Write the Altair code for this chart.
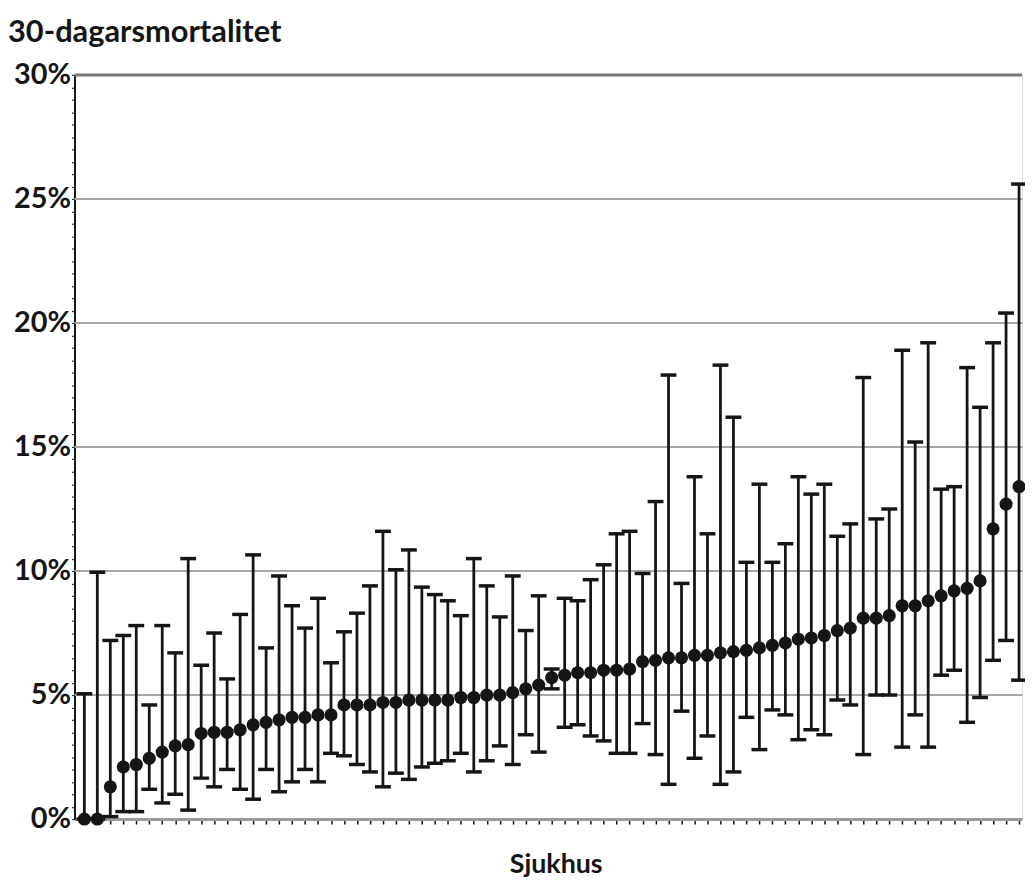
import altair as alt
import pandas as pd

# 30-day mortality per hospital (%), sorted, with confidence limits (%)
rate = [0, 0, 1.3, 2.1, 2.2, 2.45, 2.7, 2.95, 3.0, 3.45,
        3.5, 3.5, 3.6, 3.8, 3.9, 4.0, 4.1, 4.1, 4.2, 4.2,
        4.6, 4.6, 4.6, 4.7, 4.7, 4.8, 4.8, 4.8, 4.8, 4.9,
        4.9, 5.0, 5.0, 5.1, 5.25, 5.4, 5.7, 5.8, 5.9, 5.9,
        6.0, 6.0, 6.05, 6.35, 6.4, 6.5, 6.5, 6.6, 6.6, 6.7,
        6.75, 6.8, 6.9, 7.0, 7.1, 7.25, 7.3, 7.4, 7.6, 7.7,
        8.1, 8.1, 8.2, 8.6, 8.6, 8.8, 9.0, 9.2, 9.3, 9.6,
        11.7, 12.7, 13.4]
upper = [5.05, 9.95, 7.2, 7.4, 7.8, 4.6, 7.8, 6.7, 10.5, 6.2,
         7.5, 5.65, 8.25, 10.65, 6.9, 9.8, 8.6, 7.7, 8.9, 6.3,
         7.55, 8.3, 9.4, 11.6, 10.05, 10.85, 9.35, 9.05, 8.8, 8.2,
         10.5, 9.4, 8.15, 9.8, 7.6, 9.0, 6.05, 8.9, 8.8, 9.65,
         10.25, 11.5, 11.6, 9.9, 12.8, 17.9, 9.5, 13.8, 11.5, 18.3,
         16.2, 10.35, 13.5, 10.35, 11.1, 13.8, 13.1, 13.5, 11.4, 11.9,
         17.8, 12.1, 12.5, 18.9, 15.2, 19.2, 13.3, 13.4, 18.2, 16.6,
         19.2, 20.4, 25.6]
lower = [0, 0, 0.1, 0.3, 0.3, 1.2, 0.65, 1.0, 0.36, 1.65,
         1.3, 2.0, 1.2, 0.8, 2.0, 1.1, 1.5, 2.0, 1.5, 2.65,
         2.55, 2.2, 1.9, 1.3, 1.85, 1.6, 2.1, 2.25, 2.35, 2.65,
         1.9, 2.35, 2.95, 2.2, 3.4, 2.7, 5.25, 3.7, 3.8, 3.35,
         3.15, 2.65, 2.65, 3.85, 2.6, 1.4, 4.35, 2.45, 3.35, 1.4,
         1.9, 4.1, 2.8, 4.4, 4.2, 3.2, 3.6, 3.4, 4.8, 4.6,
         2.6, 5.0, 5.0, 2.9, 4.2, 2.9, 5.8, 6.0, 3.9, 4.9,
         6.4, 7.2, 5.6]
grid_levels = [5, 10, 15, 20, 25]
top_level = [30]

n = len(rate)
df = pd.DataFrame({"i": list(range(n)), "rate": rate, "lower": lower, "upper": upper})
grid_df = pd.DataFrame({"level": grid_levels})
top_df = pd.DataFrame({"level": top_level})

FONT = "Lato"
INK = "#151515"
xscale = alt.Scale(domain=[-0.76, 72.23], nice=False, zero=False)
yscale = alt.Scale(domain=[0, 30], nice=False)

x_enc = alt.X(
    "i:Q", scale=xscale,
    axis=alt.Axis(values=list(range(n)), tickCount=500, labels=False, tickSize=5, tickColor=INK,
                  tickWidth=1.5, grid=False, domainColor="#9a9a9a", domainWidth=3,
                  title="Sjukhus", titleFont=FONT, titleFontSize=27, titleFontWeight="bold",
                  titleColor=INK, titlePadding=27, titleX=485, titleAlign="center"),
)
y_axis = alt.Axis(
    values=[v / 2 for v in range(61)],
    tickCount=500,
    labelExpr="datum.value % 5 == 0 ? datum.value + '%' : ''",
    labelOverlap=False,
    labelFont=FONT, labelFontSize=29, labelFontWeight="bold", labelColor=INK,
    labelPadding=1, tickSize=3, tickColor="#333", tickWidth=1.2,
    domainColor=INK, domainWidth=2, grid=False, title=None,
)

grid = alt.Chart(grid_df).mark_rule(color="#a8a8a8", strokeWidth=2).encode(
    y=alt.Y("level:Q", scale=yscale, axis=y_axis)
)
top = alt.Chart(top_df).mark_rule(color="#777", strokeWidth=3).encode(
    y=alt.Y("level:Q", scale=yscale)
)

bars = alt.Chart(df).mark_rule(color=INK, strokeWidth=2.8).encode(
    x=x_enc,
    y=alt.Y("lower:Q", scale=yscale),
    y2="upper:Q",
)
cap_hi = alt.Chart(df).mark_tick(orient="horizontal", size=16, thickness=3.5, color=INK, opacity=1).encode(
    x=alt.X("i:Q", scale=xscale), y=alt.Y("upper:Q", scale=yscale)
)
cap_lo = alt.Chart(df).mark_tick(orient="horizontal", size=16, thickness=3.5, color=INK, opacity=1).encode(
    x=alt.X("i:Q", scale=xscale), y=alt.Y("lower:Q", scale=yscale)
)
points = alt.Chart(df).mark_circle(size=175, color=INK, opacity=1).encode(
    x=alt.X("i:Q", scale=xscale), y=alt.Y("rate:Q", scale=yscale)
)

chart = alt.layer(grid, top, bars, cap_hi, cap_lo, points).properties(
    width=955,
    height=750,
    autosize=alt.AutoSizeParams(type="none"),
    padding={"left": 67, "top": 64, "right": 3, "bottom": 60},
    title=alt.TitleParams(
        "30-dagarsmortalitet", anchor="start", frame="group", dx=-67,
        font=FONT, fontSize=31, fontWeight="bold", color=INK, offset=12,
    ),
).configure_view(stroke=None).configure(background="white")

chart.save("out.html", embed_options={"renderer": "svg", "actions": False})
